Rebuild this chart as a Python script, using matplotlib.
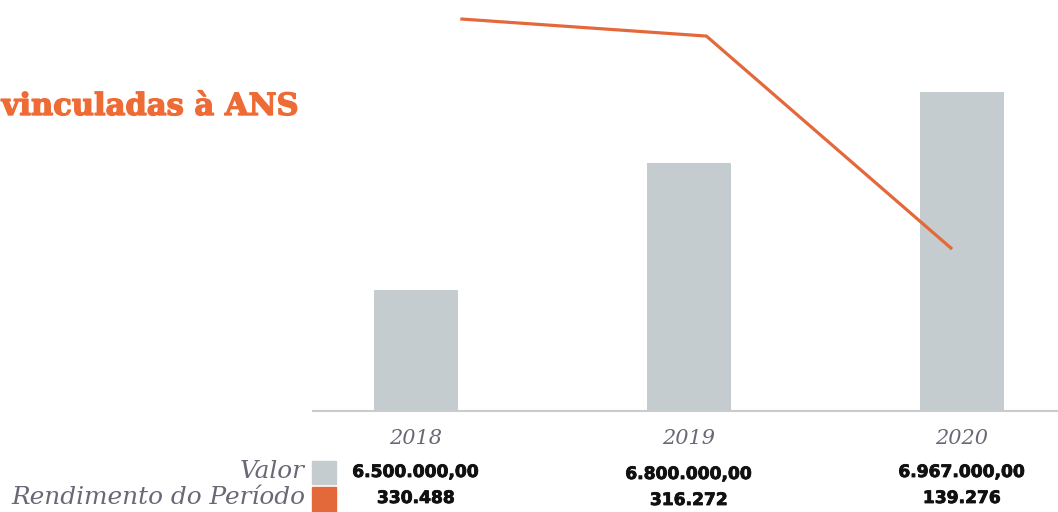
import matplotlib
matplotlib.use('Agg')
import matplotlib.pyplot as plt
import matplotlib.transforms as mtransforms
import matplotlib.patheffects as pe
from matplotlib.patches import Rectangle

# dados das aplicações vinculadas
anos = ['2018', '2019', '2020']
valor = [6500000.00, 6800000.00, 6967000.00]
rendimento = [330488, 316272, 139276]


def fmt_br(v, casas=0):
    s = f"{v:,.{casas}f}"
    return s.replace(',', 'X').replace('.', ',').replace('X', '.')


cinza = '#C5CCD0'
laranja = '#E4693A'
cinza_txt = '#686876'

fig = plt.figure(figsize=(10.58, 5.12), dpi=100)
rect = [313 / 1058, 1 - 411 / 512, (1058 - 313) / 1058, 411 / 512]
ax = fig.add_axes(rect)
x = range(len(anos))
ax.bar(x, valor, width=0.31, color=cinza, zorder=2)
ax.set_xlim(-0.377, 2.352)
ax.set_ylim(6.214e6, 7.185e6)
for s in ['top', 'right', 'left']:
    ax.spines[s].set_visible(False)
ax.spines['bottom'].set_color('#C8CCCF')
ax.spines['bottom'].set_linewidth(1.5)
ax.set_xticks([])
ax.set_yticks([])

# rendimento no eixo secundário
ax2 = fig.add_axes(rect)
ax2.patch.set_visible(False)
ax2.plot(x, rendimento, color=laranja, linewidth=2.3, solid_joinstyle='miter')
ax2.set_xlim(-0.609, 2.438)
ax2.set_ylim(3200, 346400)
ax2.axis('off')

grosso = [pe.withStroke(linewidth=1.0, foreground='#EE6B35')]
fig.text(298 / 1058, 1 - 115 / 512, 'vinculadas à ANS', ha='right', va='baseline',
         family='DejaVu Serif', fontweight='bold', fontsize=22, color='#EE6B35',
         path_effects=grosso)

# tabela abaixo do gráfico
negrito = [pe.withStroke(linewidth=0.6, foreground='#111111')]
tr = mtransforms.blended_transform_factory(ax.transData, fig.transFigure)
for i, ano in enumerate(anos):
    ax.text(i, 1 - 438 / 512, ano, transform=tr, ha='center', va='center',
            family='DejaVu Serif', style='italic', fontsize=15, color=cinza_txt)
    dy = 2 if i == 1 else 0
    ax.text(i, 1 - (472 + dy) / 512, fmt_br(valor[i], 2), transform=tr, ha='center',
            va='center', family='DejaVu Sans', fontweight='bold', fontsize=12.3,
            color='#111111', path_effects=negrito)
    ax.text(i, 1 - (498 + dy) / 512, fmt_br(rendimento[i]), transform=tr, ha='center',
            va='center', family='DejaVu Sans', fontweight='bold', fontsize=12.3,
            color='#111111', path_effects=negrito)

fig.text(305 / 1058, 1 - 472 / 512, 'Valor', ha='right', va='center',
         family='DejaVu Serif', style='italic', fontsize=17.8, color=cinza_txt)
fig.text(305 / 1058, 1 - 498 / 512, 'Rendimento do Período', ha='right', va='center',
         family='DejaVu Serif', style='italic', fontsize=17.8, color=cinza_txt)
fig.patches.append(Rectangle((312 / 1058, 1 - 484 / 512), 24 / 1058, 23 / 512,
                             transform=fig.transFigure, color=cinza))
fig.patches.append(Rectangle((312 / 1058, 1 - 511 / 512), 24 / 1058, 24 / 512,
                             transform=fig.transFigure, color=laranja))

fig.savefig('out.png', dpi=100)
